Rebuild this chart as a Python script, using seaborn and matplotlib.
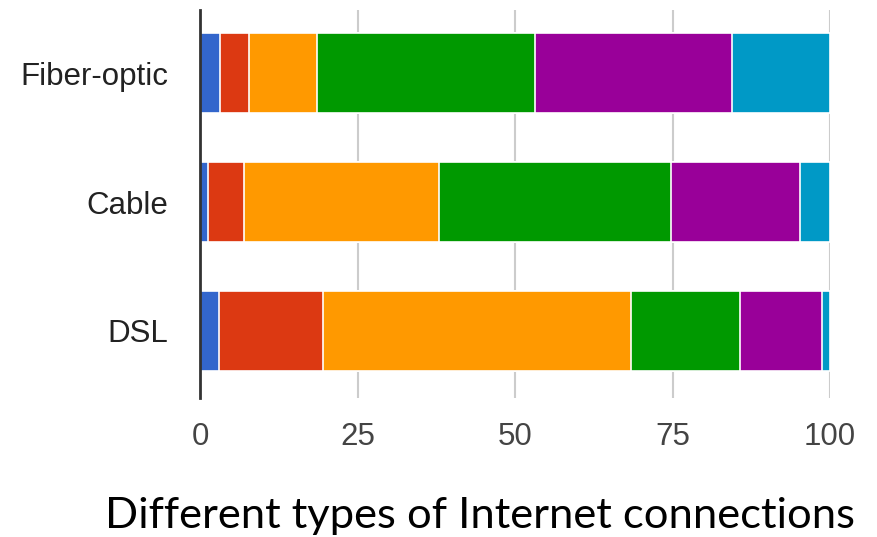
import numpy as np
import pandas as pd
import matplotlib
matplotlib.use("Agg")
import matplotlib.pyplot as plt
import seaborn as sns

# Share of connections per technology, split into six speed bands (percent)
categories = ["Fiber-optic", "Cable", "DSL"]
band_1 = [3.2, 1.2, 3.0]
band_2 = [4.5, 5.8, 16.6]
band_3 = [10.8, 30.9, 48.8]
band_4 = [34.6, 36.8, 17.3]
band_5 = [31.3, 20.5, 13.1]
band_6 = [15.6, 4.8, 1.2]
x_ticks = [0, 25, 50, 75, 100]
title = "Different types of Internet connections"

bands = [band_1, band_2, band_3, band_4, band_5, band_6]
colors = ["#3366cc", "#dc3912", "#ff9900", "#009900", "#990099", "#0099c6"]

sns.set_theme(style="white")
plt.rcParams["font.family"] = ["Liberation Sans", "DejaVu Sans"]

fig = plt.figure(figsize=(8.77, 5.37), dpi=100)
ax = fig.add_axes([200 / 877, 1 - 398 / 537, 630 / 877, 388 / 537])

# Stacked bars: draw cumulative totals from the outermost band inward
cum = np.cumsum(np.array(bands), axis=0)
for i in range(len(bands) - 1, -1, -1):
    df = pd.DataFrame({"cat": categories, "val": cum[i]})
    sns.barplot(data=df, x="val", y="cat", orient="h", color=colors[i],
                saturation=1, width=0.62, edgecolor="white", linewidth=1.2,
                ax=ax, zorder=2)

ax.set_xlim(0, 100)
ax.set_ylim(2.52, -0.49)
ax.set_xticks(x_ticks)
ax.set_xticklabels([str(t) for t in x_ticks])
ax.set_xlabel("")
ax.set_ylabel("")

for t in x_ticks[1:]:
    ax.axvline(t, color="#cccccc", linewidth=1.5, zorder=1)

for side in ["top", "right", "bottom"]:
    ax.spines[side].set_visible(False)
ax.spines["left"].set_color("#333333")
ax.spines["left"].set_linewidth(2)
ax.spines["left"].set_zorder(3)

ax.tick_params(axis="x", length=0, pad=17, labelsize=22.5, labelcolor="#444444")
ax.tick_params(axis="y", length=0, pad=23, labelsize=22.5, labelcolor="#222222")

fig.text(480 / 877, 1 - 516 / 537, title, ha="center", va="center",
         fontsize=31.3, family=["Lato", "DejaVu Sans"], color="black")

fig.savefig("out.png", dpi=100)
